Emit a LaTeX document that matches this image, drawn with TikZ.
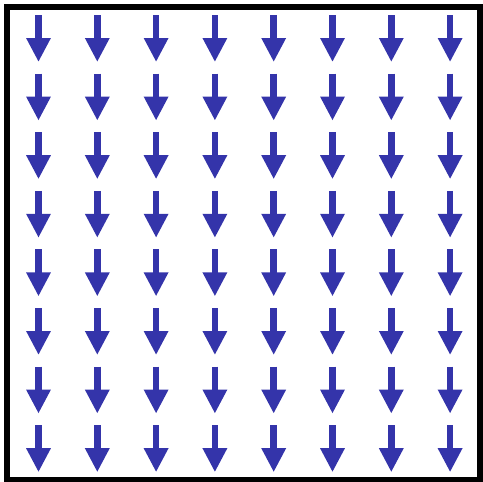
\documentclass[tikz,border=0pt]{standalone}
\usepackage{tikz}
\usetikzlibrary{arrows.meta}
\definecolor{fieldblue}{RGB}{52,52,170}
\tikzset{
  frame/.style   = {draw=black, line width=6pt},
  fieldvec/.style = {draw=fieldblue, line width=6.5pt,
                     -{Triangle[length=24pt, width=23pt]}}
}
\begin{document}
\begin{tikzpicture}[x=1pt, y=-1pt]

  % --- Page margins -------------------------------------------------------
  \useasboundingbox (0,0) rectangle (483,482);

  % --- Frame --------------------------------------------------------------
  \draw[frame] (7,7) rectangle (480,479.5);

  % --- Uniform downward field ---------------------------------------------
  \foreach \i in {0,...,7} {
    \foreach \j in {0,...,7} {
      \coordinate (top\i\j) at ({38.5+58.8*\i}, {15+58.6*\j});
      \coordinate (tip\i\j) at ({38.5+58.8*\i}, {62+58.6*\j});
      \draw[fieldvec] (top\i\j) -- (tip\i\j);
    }
  }

\end{tikzpicture}
\end{document}
